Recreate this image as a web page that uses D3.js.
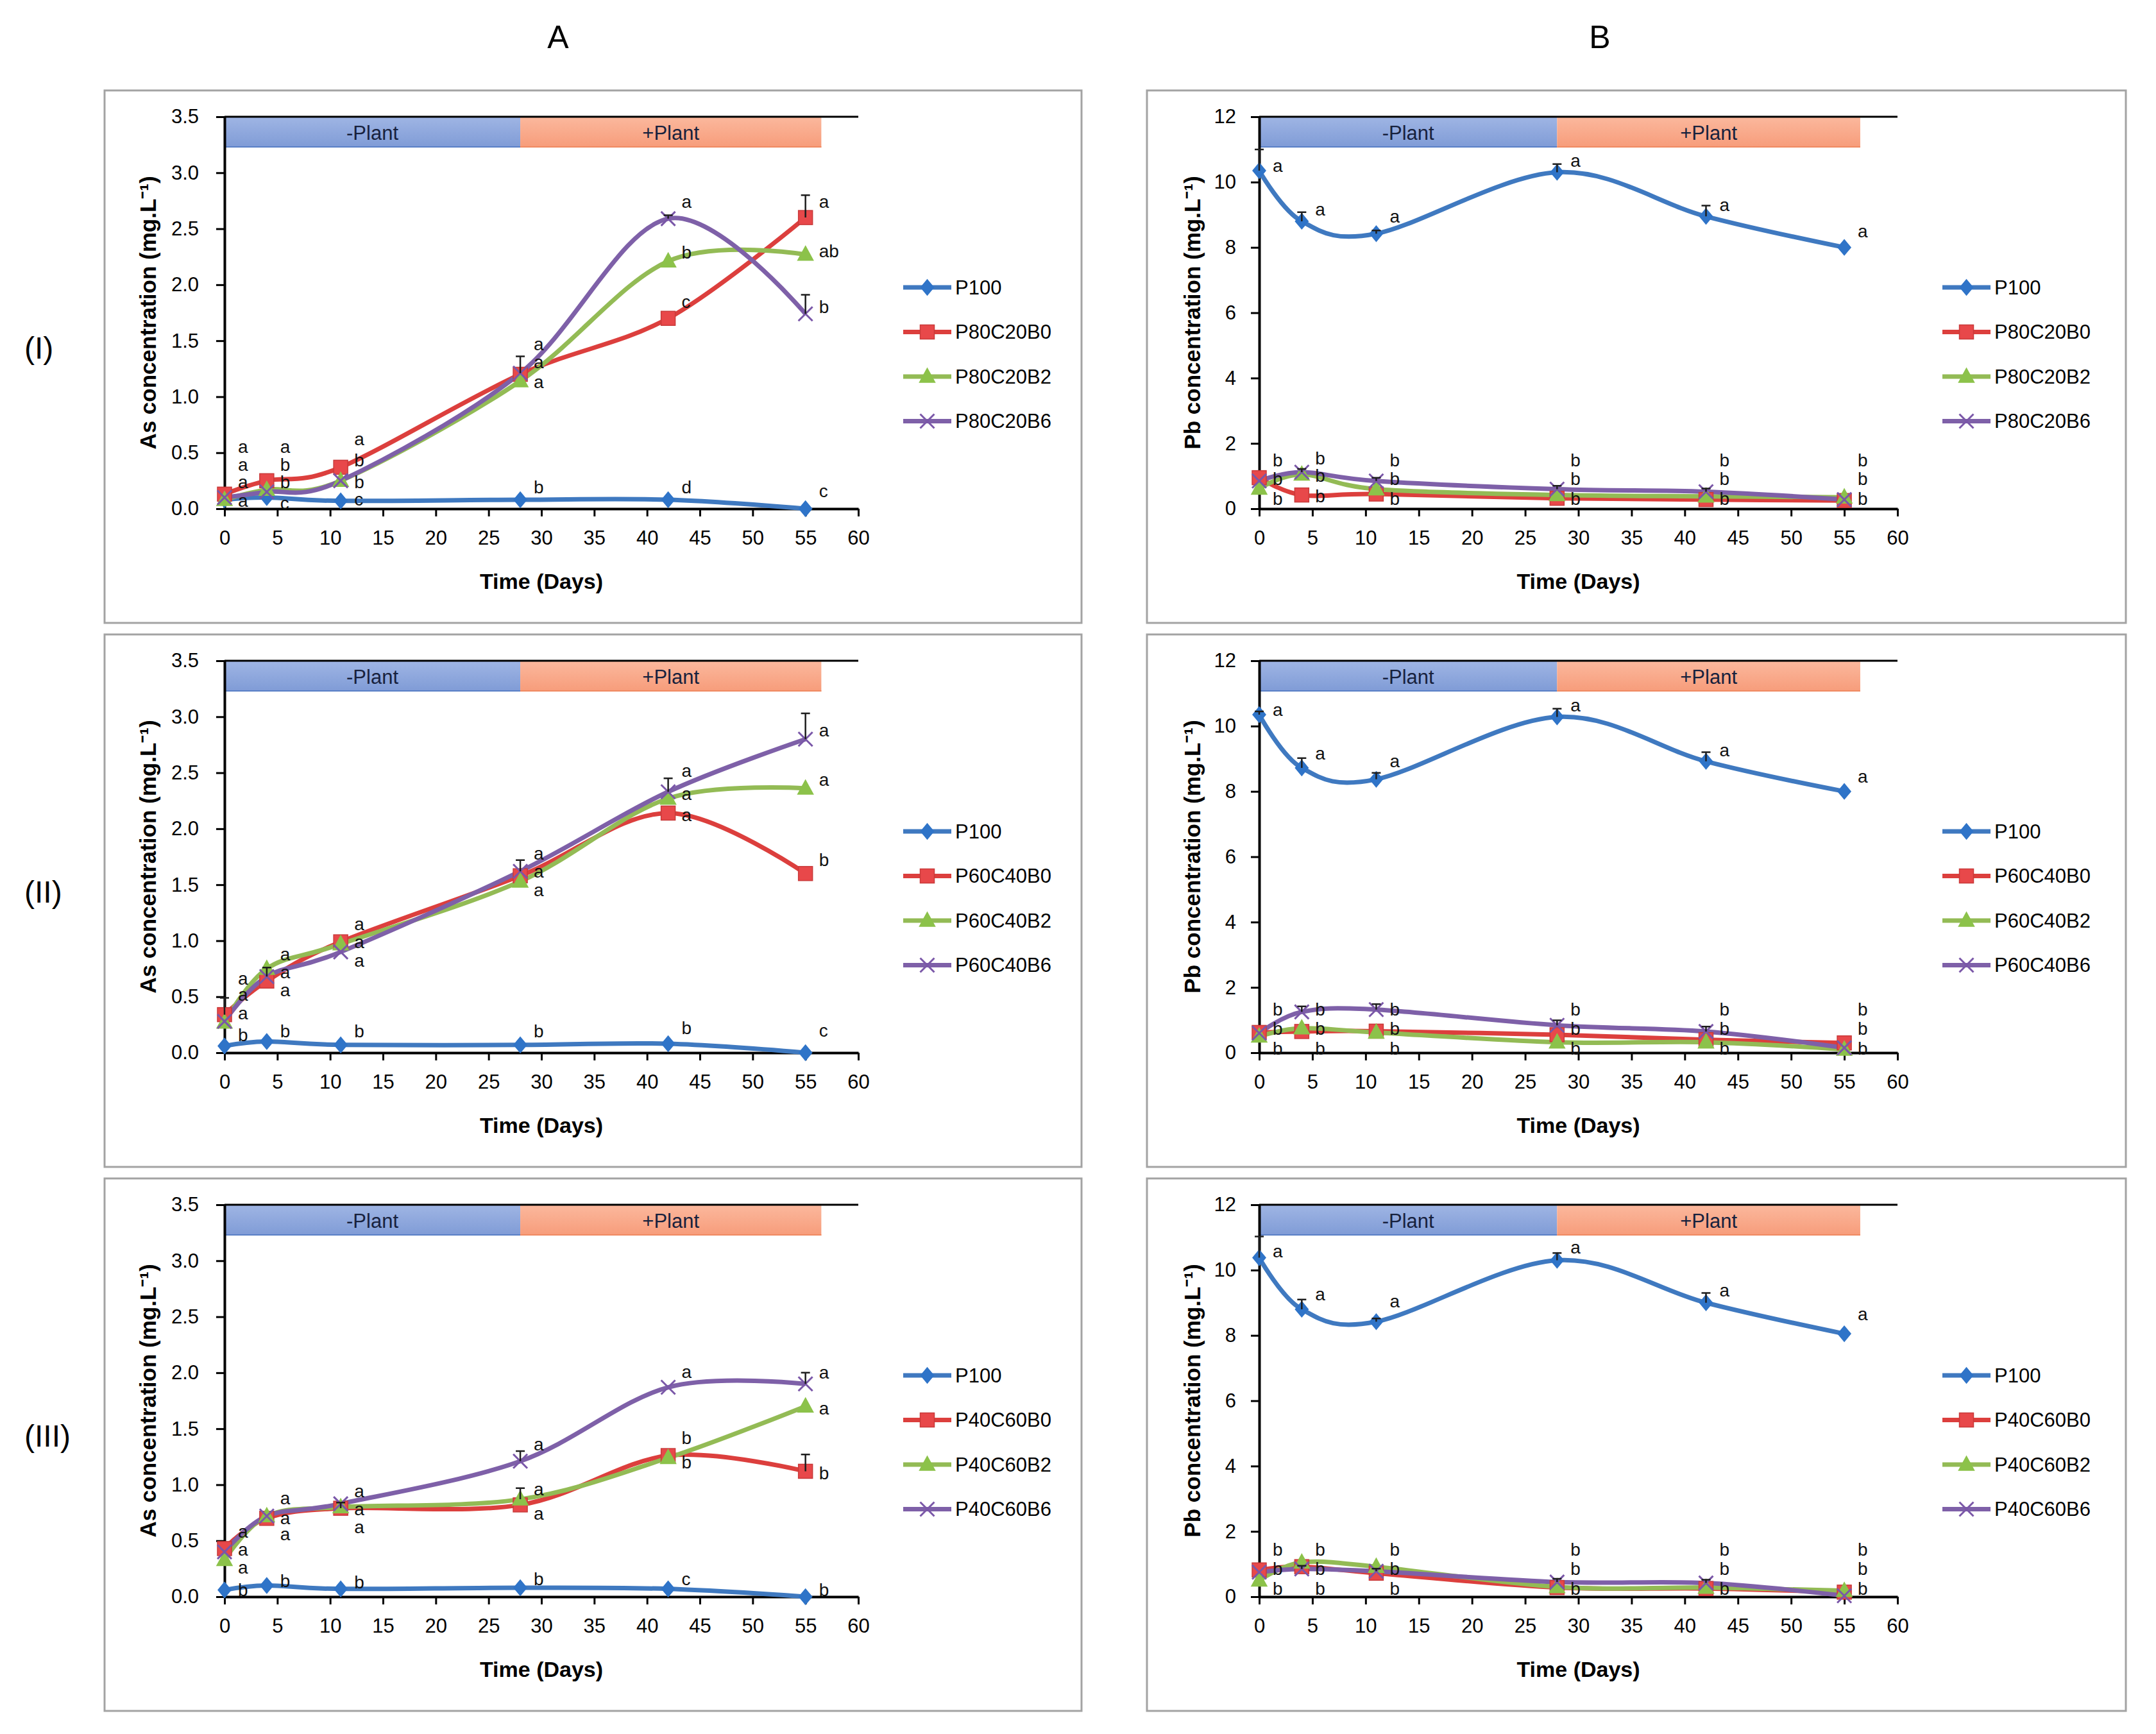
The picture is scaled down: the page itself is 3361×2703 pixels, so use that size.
<!DOCTYPE html>
<html><head><meta charset="utf-8">
<script src="https://cdn.jsdelivr.net/npm/d3@7"></script>
<style>
html,body{margin:0;padding:0;background:#fff;}
svg{display:block;font-family:"Liberation Sans",Arial,sans-serif;}
</style></head><body>
<svg id="c" width="3361" height="2703"></svg>
<script>
// ---------------- DATA ----------------
const days = [0, 4, 11, 28, 42, 55];
const xTicks = [0,5,10,15,20,25,30,35,40,45,50,55,60];
const asTicks = [0,0.5,1,1.5,2,2.5,3,3.5];
const pbTicks = [0,2,4,6,8,10,12];
const colLabels = ["A", "B"];
const rowLabels = ["(I)", "(II)", "(III)"];
const mixes = ["P80C20", "P60C40", "P40C60"];
const bandEdges = [0, 28, 56.5];
const bandLabels = ["-Plant", "+Plant"];
const asTitle = "As concentration (mg.L\u207B\u00B9)";
const pbTitle = "Pb concentration (mg.L\u207B\u00B9)";
const xTitle = "Time (Days)";

// As (mg/L) — column A
const asI_P100 = [0.08, 0.10, 0.07, 0.08, 0.08, 0.00];
const asI_B0   = [0.13, 0.25, 0.37, 1.20, 1.70, 2.60];
const asI_B2   = [0.08, 0.17, 0.25, 1.14, 2.21, 2.27];
const asI_B6   = [0.10, 0.15, 0.25, 1.21, 2.59, 1.74];

const asII_P100 = [0.06, 0.10, 0.07, 0.07, 0.08, 0.00];
const asII_B0   = [0.34, 0.64, 0.99, 1.58, 2.14, 1.60];
const asII_B2   = [0.27, 0.75, 0.97, 1.53, 2.27, 2.36];
const asII_B6   = [0.28, 0.68, 0.90, 1.62, 2.33, 2.80];

const asIII_P100 = [0.06, 0.10, 0.07, 0.08, 0.07, 0.00];
const asIII_B0   = [0.43, 0.70, 0.79, 0.82, 1.26, 1.12];
const asIII_B2   = [0.33, 0.72, 0.80, 0.87, 1.24, 1.70];
const asIII_B6   = [0.40, 0.72, 0.83, 1.21, 1.87, 1.90];

// Pb (mg/L) — column B
const pbI_P100 = [10.35, 8.80, 8.42, 10.30, 8.95, 8.00];
const pbI_B0   = [0.95, 0.42, 0.45, 0.32, 0.28, 0.25];
const pbI_B2   = [0.62, 1.05, 0.60, 0.42, 0.38, 0.35];
const pbI_B6   = [0.85, 1.12, 0.85, 0.60, 0.52, 0.28];

const pbII_P100 = [10.35, 8.72, 8.37, 10.28, 8.92, 8.00];
const pbII_B0   = [0.62, 0.65, 0.66, 0.55, 0.40, 0.30];
const pbII_B2   = [0.50, 0.75, 0.62, 0.32, 0.32, 0.10];
const pbII_B6   = [0.60, 1.25, 1.32, 0.84, 0.65, 0.15];

const pbIII_P100 = [10.38, 8.80, 8.42, 10.30, 9.00, 8.05];
const pbIII_B0   = [0.82, 0.92, 0.72, 0.28, 0.25, 0.14];
const pbIII_B2   = [0.50, 1.05, 0.92, 0.30, 0.28, 0.18];
const pbIII_B6   = [0.75, 0.85, 0.78, 0.45, 0.42, 0.03];

// upper error bars (per series: P100, B0, B2, B6)
const errAsI   = [[0,0,0,0,0,0],[0,0,0,0,0,0.20],[0,0,0,0,0,0],[0,0,0,0.15,0.03,0.17]];
const errAsII  = [[0,0,0,0,0,0],[0.15,0,0,0,0,0],[0,0,0,0,0,0],[0,0.08,0,0.10,0.12,0.23]];
const errAsIII = [[0,0,0,0,0,0],[0,0,0.05,0,0,0.15],[0,0,0,0.10,0,0],[0,0,0,0.09,0,0.10]];
const errPbI   = [[0.65,0.28,0.10,0.25,0.33,0],[0,0,0,0,0,0],[0,0,0,0,0,0],[0,0.10,0.10,0.10,0.10,0]];
const errPbII  = [[0.10,0.30,0.20,0.25,0.28,0],[0,0,0,0,0,0],[0,0,0,0,0,0],[0,0.17,0.17,0.15,0.15,0]];
const errPbIII = [[0.65,0.30,0.10,0.22,0.30,0],[0,0,0,0,0,0],[0,0,0,0,0,0],[0,0.10,0.08,0.10,0.10,0]];

// significance letters (per sampling day) and the concentration they sit at
const lettersAsI   = [["a","a","a","a"],["a","b","b","c"],["a","b","b","c"],["a","a","a","b"],["a","b","c","d"],["a","ab","b","c"]];
const letterYAsI   = [[0.55,0.39,0.24,0.07],[0.55,0.39,0.24,0.05],[0.62,0.43,0.24,0.085],[1.47,1.31,1.13,0.19],[2.74,2.29,1.85,0.19],[2.74,2.30,1.80,0.16]];
const lettersAsII  = [["a","a","a","b"],["a","a","a","b"],["a","a","a","b"],["a","a","a","b"],["a","a","a","b"],["a","a","b","c"]];
const letterYAsII  = [[0.66,0.52,0.35,0.16],[0.88,0.72,0.56,0.19],[1.15,0.99,0.82,0.19],[1.78,1.62,1.45,0.19],[2.52,2.31,2.12,0.22],[2.88,2.44,1.72,0.20]];
const lettersAsIII = [["a","a","a","b"],["a","a","a","b"],["a","a","a","b"],["a","a","a","b"],["a","b","b","c"],["a","a","b","b"]];
const letterYAsIII = [[0.58,0.42,0.26,0.06],[0.88,0.70,0.56,0.14],[0.94,0.78,0.62,0.13],[1.36,0.96,0.74,0.16],[2.01,1.42,1.20,0.16],[2.00,1.68,1.10,0.06]];
const lettersPb    = [["a","b","b","b"],["a","b","b","b"],["a","b","b","b"],["a","b","b","b"],["a","b","b","b"],["a","b","b","b"]];
const letterYPbI   = [[10.50,1.49,0.92,0.30],[9.17,1.54,1.01,0.39],[8.95,1.49,0.92,0.30],[10.66,1.49,0.92,0.30],[9.30,1.49,0.92,0.30],[8.50,1.49,0.92,0.30]];
const letterYPbII  = [[10.50,1.32,0.73,0.13],[9.16,1.32,0.73,0.13],[8.93,1.32,0.73,0.13],[10.63,1.32,0.73,0.13],[9.27,1.32,0.73,0.13],[8.46,1.32,0.73,0.13]];
const letterYPbIII = [[10.58,1.45,0.85,0.25],[9.27,1.45,0.85,0.25],[9.05,1.45,0.85,0.25],[10.69,1.45,0.85,0.25],[9.38,1.45,0.85,0.25],[8.66,1.45,0.85,0.25]];

// ---------------- STYLE ----------------
const lineColors   = ["#3f79c0", "#dc3f3d", "#93bb55", "#7e60a8"];
const markerColors = ["#2f74c8", "#e8484a", "#8cc24a", "#7a57a8"];
const markerKinds  = ["diamond", "square", "triangle", "x"];

const svg = d3.select("#c");
const defs = svg.append("defs");
function grad(id, c1, c2) {
  const g = defs.append("linearGradient").attr("id", id).attr("x1",0).attr("y1",0).attr("x2",0).attr("y2",1);
  g.append("stop").attr("offset","0%").attr("stop-color",c1);
  g.append("stop").attr("offset","100%").attr("stop-color",c2);
}
grad("gBlue", "#9fb5e4", "#7f9bd6");
grad("gOrange", "#fbb89d", "#f79c7a");

const rowTops = [182, 1030, 1878];
const plotH = 611;
const cols = [
  { left: 350, right: 1338, boxL: 163, boxR: 1686, titleX: 230, pad: 27, ymax: 3.5, ticks: asTicks, fmt: d3.format(".1f"), title: asTitle, labelX: 870 },
  { left: 1963, right: 2958, boxL: 1788, boxR: 3314, titleX: 1858, pad: 23, ymax: 12, ticks: pbTicks, fmt: d3.format("d"), title: pbTitle, labelX: 2494 }
];

const panelData = [
  [ { vals: [asI_P100, asI_B0, asI_B2, asI_B6], err: errAsI, let: lettersAsI, letY: letterYAsI },
    { vals: [pbI_P100, pbI_B0, pbI_B2, pbI_B6], err: errPbI, let: lettersPb, letY: letterYPbI } ],
  [ { vals: [asII_P100, asII_B0, asII_B2, asII_B6], err: errAsII, let: lettersAsII, letY: letterYAsII },
    { vals: [pbII_P100, pbII_B0, pbII_B2, pbII_B6], err: errPbII, let: lettersPb, letY: letterYPbII } ],
  [ { vals: [asIII_P100, asIII_B0, asIII_B2, asIII_B6], err: errAsIII, let: lettersAsIII, letY: letterYAsIII },
    { vals: [pbIII_P100, pbIII_B0, pbIII_B2, pbIII_B6], err: errPbIII, let: lettersPb, letY: letterYPbIII } ]
];

function drawMarker(g, kind, cx, cy, i) {
  const c = markerColors[i];
  if (kind === "diamond") {
    g.append("path").attr("d", `M${cx},${cy-12}L${cx+10},${cy}L${cx},${cy+12}L${cx-10},${cy}Z`)
      .attr("fill", c).attr("stroke", c).attr("stroke-width", 1.5);
  } else if (kind === "square") {
    g.append("rect").attr("x", cx-11).attr("y", cy-11).attr("width", 22).attr("height", 22)
      .attr("fill", c).attr("stroke", "#c93a3a").attr("stroke-width", 1.5);
  } else if (kind === "triangle") {
    g.append("path").attr("d", `M${cx},${cy-13}L${cx+12},${cy+9}L${cx-12},${cy+9}Z`)
      .attr("fill", c).attr("stroke", c).attr("stroke-width", 1.5);
  } else {
    g.append("path").attr("d", `M${cx-11},${cy-11}L${cx+11},${cy+11}M${cx-11},${cy+11}L${cx+11},${cy-11}`)
      .attr("fill", "none").attr("stroke", c).attr("stroke-width", 3);
  }
}

// column labels
colLabels.forEach((t, c) => {
  svg.append("text").attr("x", cols[c].labelX).attr("y", 58).attr("text-anchor", "middle")
    .attr("dominant-baseline", "central").attr("font-size", 50).attr("fill", "#000").text(t);
});

rowTops.forEach((top, r) => {
  svg.append("text").attr("x", 38).attr("y", top + 360).attr("dominant-baseline", "central")
    .attr("font-size", 48).attr("fill", "#000").text(rowLabels[r]);

  cols.forEach((col, c) => {
    const pd = panelData[r][c];
    const g = svg.append("g");
    const x = d3.scaleLinear().domain([0, 60]).range([col.left, col.right]);
    const y = d3.scaleLinear().domain([0, col.ymax]).range([top + plotH, top]);
    const bottom = top + plotH;

    // frame
    g.append("rect").attr("x", col.boxL).attr("y", top - 41).attr("width", col.boxR - col.boxL)
      .attr("height", 830).attr("fill", "none").attr("stroke", "#a3a3a3").attr("stroke-width", 3);

    // plant band
    const bandH = 48;
    [0, 1].forEach(k => {
      g.append("rect").attr("x", x(bandEdges[k])).attr("y", top)
        .attr("width", x(bandEdges[k+1]) - x(bandEdges[k])).attr("height", bandH)
        .attr("fill", k === 0 ? "url(#gBlue)" : "url(#gOrange)");
      g.append("line").attr("x1", x(bandEdges[k])).attr("x2", x(bandEdges[k+1]))
        .attr("y1", top + bandH - 1).attr("y2", top + bandH - 1)
        .attr("stroke", k === 0 ? "#5a7fc6" : "#f08a62").attr("stroke-width", 2);
      g.append("text").attr("x", (x(bandEdges[k]) + x(bandEdges[k+1])) / 2).attr("y", top + bandH / 2 + 1)
        .attr("text-anchor", "middle").attr("dominant-baseline", "central")
        .attr("font-size", 31).attr("fill", "#17213d").text(bandLabels[k]);
    });

    // axes
    const ya = g.append("g").attr("transform", `translate(${col.left},0)`)
      .call(d3.axisLeft(y).tickValues(col.ticks).tickFormat(col.fmt).tickSize(13).tickSizeOuter(0).tickPadding(col.pad));
    const xa = g.append("g").attr("transform", `translate(0,${bottom})`)
      .call(d3.axisBottom(x).tickValues(xTicks).tickSize(12).tickSizeOuter(0).tickPadding(22));
    [ya, xa].forEach(a => {
      a.select(".domain").attr("stroke", "#000").attr("stroke-width", 4);
      a.selectAll(".tick line").attr("stroke", "#000").attr("stroke-width", 3);
      a.selectAll(".tick text").attr("font-size", 31).attr("fill", "#000")
        .attr("font-family", '"Liberation Sans",Arial,sans-serif');
    });
    g.append("line").attr("x1", x(0)).attr("x2", x(60)).attr("y1", y(col.ymax)).attr("y2", y(col.ymax))
      .attr("stroke", "#000").attr("stroke-width", 3);

    // series
    const lineGen = d3.line().x(d => x(d[0])).y(d => y(d[1])).curve(d3.curveCardinal.tension(0));
    pd.vals.forEach((vals, i) => {
      const pts = days.map((d, j) => [d, vals[j]]);
      g.append("path").attr("d", lineGen(pts)).attr("fill", "none")
        .attr("stroke", lineColors[i]).attr("stroke-width", 7).attr("stroke-linejoin", "round");
    });
    pd.vals.forEach((vals, i) => {
      days.forEach((d, j) => drawMarker(g, markerKinds[i], x(d), y(vals[j]), i));
    });
    // error bars
    pd.vals.forEach((vals, i) => {
      days.forEach((d, j) => {
        const e = pd.err[i][j];
        if (e > 0) {
          const x0 = x(d), y0 = y(vals[j]), y1 = y(vals[j] + e);
          g.append("path").attr("d", `M${x0},${y0}L${x0},${y1}M${x0-7},${y1}L${x0+7},${y1}`)
            .attr("stroke", "#1e1e1e").attr("stroke-width", 2.5).attr("fill", "none");
        }
      });
    });
    // letters
    days.forEach((d, j) => {
      pd.let[j].forEach((t, k) => {
        g.append("text").attr("x", x(d) + 21).attr("y", y(pd.letY[j][k]))
          .attr("dominant-baseline", "central").attr("font-size", 28).attr("fill", "#111").text(t);
      });
    });

    // legend
    const names = ["P100", mixes[r] + "B0", mixes[r] + "B2", mixes[r] + "B6"];
    names.forEach((n, i) => {
      const ly = top + 266 + i * 69.5;
      const lx1 = col.right + 70, lx2 = col.right + 145;
      g.append("line").attr("x1", lx1).attr("x2", lx2).attr("y1", ly).attr("y2", ly)
        .attr("stroke", lineColors[i]).attr("stroke-width", 7);
      drawMarker(g, markerKinds[i], (lx1 + lx2) / 2, ly, i);
      g.append("text").attr("x", lx2 + 6).attr("y", ly).attr("dominant-baseline", "central")
        .attr("font-size", 31).attr("fill", "#000").text(n);
    });

    // axis titles
    g.append("text").attr("transform", `translate(${col.titleX},${(top + bottom) / 2}) rotate(-90)`)
      .attr("text-anchor", "middle").attr("dominant-baseline", "central")
      .attr("font-size", 35).attr("font-weight", "bold").attr("fill", "#000").text(col.title);
    g.append("text").attr("x", (col.left + col.right) / 2).attr("y", bottom + 113)
      .attr("text-anchor", "middle").attr("dominant-baseline", "central")
      .attr("font-size", 34).attr("font-weight", "bold").attr("fill", "#000").text(xTitle);
  });
});
</script>
</body></html>
